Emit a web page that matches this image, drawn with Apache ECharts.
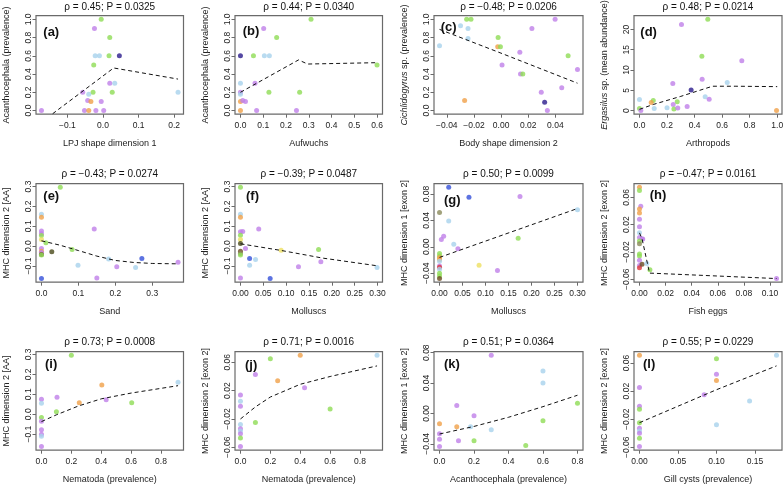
<!DOCTYPE html>
<html><head><meta charset="utf-8">
<script src="https://cdn.jsdelivr.net/npm/echarts@6/dist/echarts.min.js"></script>
<style>html,body{margin:0;padding:0;background:#fff}#c{width:784px;height:487px}</style>
</head><body><div id="c"></div>
<script>
// ---------- DATA (x, y, colour group) ----------
const aPts = [[-0.005,1.0,'g'],[-0.024,0.9,'p'],[0.019,0.8,'g'],[-0.022,0.6,'l'],[-0.010,0.6,'l'],[0.017,0.6,'g'],[0.046,0.6,'n'],[-0.026,0.5,'g'],[0.019,0.3,'p'],[0.033,0.3,'l'],[-0.057,0.2,'p'],[-0.028,0.2,'g'],[0.026,0.2,'g'],[-0.040,0.18,'l'],[0.211,0.2,'l'],[-0.043,0.11,'p'],[-0.034,0.1,'o'],[-0.005,0.1,'p'],[-0.173,0,'p'],[-0.052,0,'p'],[-0.040,0,'o'],[-0.020,0,'p'],[0.002,0,'p']];
const aFit = [[-0.173,-0.127],[0.030,0.467],[0.211,0.345]];
const bPts = [[0.31,1.0,'g'],[0.102,0.9,'p'],[0.159,0.8,'g'],[0,0.6,'n'],[0.057,0.6,'g'],[0.105,0.6,'l'],[0.127,0.6,'l'],[0.6,0.5,'g'],[0,0.3,'l'],[0.064,0.3,'p'],[0,0.2,'p'],[0,0.18,'l'],[0.125,0.2,'g'],[0.26,0.2,'g'],[0,0.1,'o'],[0.01,0.11,'p'],[0.022,0.1,'p'],[0,0,'o'],[0.071,0,'p'],[0.246,0,'p']];
const bFit = [[0,0.2],[0.255,0.555],[0.295,0.51],[0.6,0.525]];
const cPts = [[-0.0254,1.0,'g'],[-0.0222,1.0,'g'],[0.0398,1.0,'p'],[-0.0299,0.93,'l'],[-0.0244,0.9,'l'],[0.0227,0.9,'p'],[-0.0244,0.79,'l'],[-0.0022,0.8,'g'],[-0.0454,0.71,'l'],[-0.0025,0.70,'o'],[-0.0005,0.70,'g'],[0.0138,0.64,'p'],[0.0494,0.6,'g'],[0.0007,0.5,'p'],[0.0143,0.4,'p'],[0.016,0.4,'g'],[0.0563,0.45,'p'],[0.0296,0.2,'p'],[0.0447,0.25,'p'],[-0.0269,0.11,'o'],[0.0321,0.09,'n'],[0.0341,0,'p']];
const cFit = [[-0.0454,0.89],[0.0007,0.625],[0.0563,0.30]];
const dPts = [[0.496,22.5,'g'],[0.305,21.2,'p'],[0.453,13.4,'g'],[0.743,12.3,'p'],[0.242,6.7,'p'],[0.455,7.7,'p'],[0.637,6.9,'l'],[0.375,5.1,'n'],[0.477,3.4,'l'],[0.506,2.8,'p'],[0,2.7,'l'],[0.1,2.5,'g'],[0.085,2.0,'o'],[0.274,2.2,'g'],[0.245,1.5,'p'],[0.346,1.0,'p'],[0.2,0.7,'l'],[0,0.5,'g'],[0.107,0.5,'l'],[0.25,0.4,'g'],[0.278,0.6,'p'],[0.01,0,'p'],[0.995,0,'o']];
const dFit = [[0,0.3],[0.1,1.5],[0.3,3.5],[0.53,6.0],[0.7,6.0],[1.0,5.9]];
const ePts = [[0.051,0.296,'g'],[0,0.16,'l'],[0,0.145,'o'],[0.143,0.086,'p'],[0,0.076,'p'],[0,0.062,'p'],[0,0.054,'g'],[0,0.034,'y'],[0.012,0.017,'g'],[0,-0.012,'p'],[0,-0.025,'o'],[0,-0.032,'p'],[0,-0.042,'w'],[0,-0.045,'g'],[0.028,-0.028,'k'],[0.083,-0.017,'g'],[0.182,-0.065,'l'],[0.272,-0.062,'b'],[0.37,-0.081,'p'],[0.099,-0.096,'l'],[0.204,-0.104,'p'],[0.255,-0.108,'l'],[0.15,-0.16,'p'],[0,-0.163,'b']];
const eFit = [[0,0.027],[0.05,0.005],[0.1,-0.022],[0.15,-0.05],[0.2,-0.072],[0.25,-0.082],[0.3,-0.087],[0.37,-0.089]];
const fPts = [[0,0.296,'g'],[0,0.16,'l'],[0,0.145,'o'],[0.04,0.086,'p'],[0,0.072,'p'],[0.005,0.074,'p'],[0,0.055,'g'],[0,0.034,'y'],[0,0.013,'k'],[0.011,-0.012,'p'],[0,-0.025,'w'],[0,-0.037,'v'],[0,-0.045,'g'],[0.089,-0.02,'y'],[0.171,-0.017,'g'],[0.02,-0.062,'b'],[0.033,-0.067,'l'],[0.176,-0.079,'p'],[0.02,-0.096,'l'],[0.127,-0.104,'p'],[0.299,-0.108,'l'],[0,-0.16,'p'],[0.065,-0.163,'b']];
const fFit = [[0,0.012],[0.09,-0.022],[0.18,-0.06],[0.30,-0.099]];
const gPts = [[0.02,0.090,'b'],[0.064,0.075,'b'],[0.175,0.076,'p'],[0,0.052,'v'],[0.30,0.056,'l'],[0.02,0.039,'l'],[0.171,0.013,'g'],[0.009,0.016,'p'],[0.004,0.011,'p'],[0.031,0.004,'l'],[0.04,-0.003,'p'],[0,-0.010,'g'],[0,-0.014,'g'],[0,-0.016,'o'],[0,-0.019,'o'],[0,-0.022,'l'],[0.086,-0.028,'y'],[0,-0.029,'p'],[0,-0.031,'r'],[0,-0.034,'l'],[0.126,-0.036,'p'],[0,-0.040,'g'],[0,-0.044,'g'],[0,-0.048,'w']];
const gFit = [[0,-0.016],[0.3,0.058]];
const hPts = [[0,0.0747,'o'],[0,0.070,'g'],[0.001,0.047,'p'],[0,0.043,'o'],[0,0.037,'o'],[0,0.028,'p'],[0,0.017,'p'],[0,0.008,'l'],[0,0.001,'p'],[0.002,-0.001,'p'],[0.0025,-0.001,'p'],[0,-0.004,'g'],[0,-0.008,'v'],[0,-0.023,'g'],[0,-0.026,'g'],[0,-0.032,'p'],[0,-0.040,'p'],[0,-0.043,'r'],[0.002,-0.038,'w'],[0.0056,-0.037,'l'],[0.008,-0.046,'g'],[0.105,-0.059,'p']];
const hFit = [[0,0.008],[0.002,-0.001],[0.0077,-0.051],[0.105,-0.059]];
const iPts = [[0.2,0.295,'g'],[0.914,0.16,'l'],[0.404,0.147,'o'],[0.104,0.085,'p'],[0,0.075,'p'],[0.433,0.072,'p'],[0.253,0.057,'o'],[0.604,0.057,'g'],[0,0.055,'l'],[0.1,0.013,'g'],[0,-0.017,'g'],[0,-0.035,'p'],[0,-0.078,'p'],[0,-0.1,'p'],[0,-0.11,'l'],[0,-0.162,'p']];
const iFit = [[0,-0.037],[0.1,-0.003],[0.25,0.042],[0.4,0.077],[0.6,0.106],[0.914,0.143]];
const jPts = [[0.4,0.0699,'o'],[0.914,0.0699,'l'],[0.2,0.065,'g'],[0.1,0.043,'p'],[0.249,0.034,'o'],[0.429,0.024,'p'],[0,0.0137,'p'],[0,0.005,'l'],[0,-0.002,'p'],[0.6,-0.006,'g'],[0.1,-0.025,'g'],[0,-0.028,'l'],[0,-0.034,'p'],[0,-0.037,'l'],[0,-0.041,'p'],[0,-0.047,'g'],[0,-0.059,'p']];
const jFit = [[0,-0.020],[0.1,-0.003],[0.2,0.011],[0.4,0.029],[0.6,0.040],[0.914,0.055]];
const kPts = [[0.3,0.0765,'p'],[0.6,0.056,'l'],[0.6,0.040,'l'],[0.8,0.0136,'g'],[0.1,0.0105,'p'],[0.2,-0.003,'p'],[0.6,-0.0097,'g'],[0,-0.0136,'o'],[0.1,-0.0176,'o'],[0.18,-0.0176,'l'],[0.3,-0.0215,'l'],[0,-0.0268,'p'],[0,-0.034,'p'],[0.11,-0.036,'p'],[0.2,-0.036,'g'],[0,-0.0435,'p'],[0.5,-0.042,'g']];
const kFit = [[0,-0.027],[0.2,-0.017],[0.4,-0.005],[0.6,0.009],[0.8,0.024]];
const lPts = [[0,0.071,'o'],[0.178,0.071,'l'],[0.1,0.066,'g'],[0.1,0.044,'p'],[0.1,0.035,'o'],[0,0.025,'p'],[0.084,0.015,'p'],[0.143,0.006,'l'],[0,-0.0014,'p'],[0,-0.006,'g'],[0,-0.025,'g'],[0.1,-0.028,'l'],[0,-0.033,'p'],[0,-0.037,'l'],[0,-0.040,'p'],[0,-0.047,'g'],[0,-0.059,'p']];
const lFit = [[0,-0.025],[0.1,0.022],[0.178,0.056]];

// ---------- TICKS ----------
const xTicks = [[-0.1,0,0.1,0.2],[0,0.1,0.2,0.3,0.4,0.5,0.6],[-0.04,-0.02,0,0.02,0.04],[0,0.2,0.4,0.6,0.8,1.0],
  [0,0.1,0.2,0.3],[0,0.05,0.1,0.15,0.2,0.25,0.3],[0,0.05,0.1,0.15,0.2,0.25,0.3],[0,0.02,0.04,0.06,0.08,0.1],
  [0,0.2,0.4,0.6,0.8],[0,0.2,0.4,0.6,0.8],[0,0.2,0.4,0.6,0.8],[0,0.05,0.1,0.15]];
const xDec = [1,1,2,1, 1,2,2,2, 1,1,1,2];
const yTicks = [[0,0.2,0.4,0.6,0.8,1.0],[0,0.2,0.4,0.6,0.8,1.0],[0,0.2,0.4,0.6,0.8,1.0],[0,5,10,15,20],
  [-0.1,0,0.1,0.2,0.3],[-0.1,0,0.1,0.2,0.3],[-0.04,0,0.04,0.08],[-0.06,-0.02,0.02,0.06],
  [-0.1,0,0.1,0.2,0.3],[-0.06,-0.02,0.02,0.06],[-0.04,0,0.04,0.08],[-0.06,-0.02,0.02,0.06]];
const yDec = [1,1,1,0, 1,1,2,2, 1,2,2,2];

// ---------- TEXT ----------
const titles = ['ρ = 0.45; P = 0.0325','ρ = 0.44; P = 0.0340','ρ = −0.48; P = 0.0206','ρ = 0.48; P = 0.0214',
  'ρ = −0.43; P = 0.0274','ρ = −0.39; P = 0.0487','ρ = 0.50; P = 0.0099','ρ = −0.47; P = 0.0161',
  'ρ = 0.73; P = 0.0008','ρ = 0.71; P = 0.0016','ρ = 0.51; P = 0.0364','ρ = 0.55; P = 0.0229'];
const letters = ['(a)','(b)','(c)','(d)','(e)','(f)','(g)','(h)','(i)','(j)','(k)','(l)'];
const xNames = ['LPJ shape dimension 1','Aufwuchs','Body shape dimension 2','Arthropods','Sand','Molluscs','Molluscs','Fish eggs',
  'Nematoda (prevalence)','Nematoda (prevalence)','Acanthocephala (prevalence)','Gill cysts (prevalence)'];
const yNames = ['Acanthocephala (prevalence)','Acanthocephala (prevalence)','{i|Cichlidogyrus} sp. (prevalence)','{i|Ergasilus} sp. (mean abundance)',
  'MHC dimension 2 [AA]','MHC dimension 2 [AA]','MHC dimension 1 [exon 2]','MHC dimension 2 [exon 2]',
  'MHC dimension 2 [AA]','MHC dimension 2 [exon 2]','MHC dimension 1 [exon 2]','MHC dimension 2 [exon 2]'];

const allPts = [aPts,bPts,cPts,dPts,ePts,fPts,gPts,hPts,iPts,jPts,kPts,lPts];
const allFit = [aFit,bFit,cFit,dFit,eFit,fFit,gFit,hFit,iFit,jFit,kFit,lFit];

// ---------- STYLE / LAYOUT ----------
const COL = {p:'#BF80E8', g:'#8EDC55', l:'#A8D2EC', o:'#F0A048', n:'#2B1C8C', b:'#3550DA', y:'#EEE060', v:'#8A8A5A', w:'#6A4B22', r:'#E03A3A', k:'#4A4A1A'};
const FONT = '"Liberation Sans", Arial, sans-serif';
const LEFT = [36, 235, 434, 634], WID = [147.5, 147.5, 149, 148];
const TOP = [15.7, 183.7, 351.7], HEI = 98.5;
const TITLE_Y = [7.3, 174.2, 342];
const LET_OFF = [[7.3,17],[7.7,15.5],[6.7,12],[6.3,17],[7.3,12.4],[11,12.5],[10,16.3],[15.7,11.3],[9,12.4],[10,13.3],[10,13],[9,13]];

function ext(v){const mn=Math.min(...v), mx=Math.max(...v), d=(mx-mn)*0.04; return [mn-d, mx+d];}
function fmt(v,d){if(Math.abs(v)<1e-12) v=0; return v.toFixed(d).replace('-','\u2212');}

const grid=[], xAxis=[], yAxis=[], series=[], graphic=[];
for(let i=0;i<12;i++){
  const c=i%4, r=Math.floor(i/4);
  const pts=allPts[i];
  const xr=ext(pts.map(p=>p[0])), yr=ext(pts.map(p=>p[1]));
  grid.push({left:LEFT[c], top:TOP[r], width:WID[c], height:HEI, show:true, borderColor:'#6a6a6a', borderWidth:1.2,
    backgroundColor:'transparent', containLabel:false, outerBoundsMode:'none'});
  const xd=xDec[i], yd=yDec[i];
  xAxis.push({type:'value', gridIndex:i, min:xr[0], max:xr[1], splitLine:{show:false},
    axisLine:{show:false, onZero:false},
    axisTick:{show:true, length:3.5, lineStyle:{color:'#6a6a6a', width:1}, customValues:xTicks[i]},
    axisLabel:{customValues:xTicks[i], formatter:v=>fmt(v,xd), margin:7, fontSize:8.5, color:'#222', fontFamily:FONT, hideOverlap:false},
    name:xNames[i], nameLocation:'middle', nameGap:25, nameTextStyle:{fontSize:9, color:'#222', fontFamily:FONT}});
  yAxis.push({type:'value', gridIndex:i, min:yr[0], max:yr[1], splitLine:{show:false},
    axisLine:{show:false, onZero:false},
    axisTick:{show:true, length:3.5, lineStyle:{color:'#6a6a6a', width:1}, customValues:yTicks[i]},
    axisLabel:{customValues:yTicks[i], formatter:v=>fmt(v,yd), rotate:90, margin:3, fontSize:8.5, color:'#222', fontFamily:FONT, hideOverlap:false},
    name:yNames[i], nameLocation:'middle', nameRotate:90, nameGap:25,
    nameTextStyle:{fontSize:9, color:'#222', fontFamily:FONT, rich:{i:{fontStyle:'italic', fontSize:9, color:'#222', fontFamily:FONT}}}});
  series.push({type:'scatter', xAxisIndex:i, yAxisIndex:i, symbolSize:5, silent:true, z:3,
    data:pts.map(p=>({value:[p[0],p[1]], itemStyle:{color:COL[p[2]]}}))});
  series.push({type:'line', xAxisIndex:i, yAxisIndex:i, data:allFit[i], showSymbol:false, symbol:'none', clip:true, silent:true, z:4,
    lineStyle:{color:'#111', width:1, type:[4,3]}});
  graphic.push({type:'text', x:LEFT[c]+WID[c]/2, y:TITLE_Y[r], style:{text:titles[i], font:'10px '+FONT, fill:'#111', align:'center', verticalAlign:'middle'}});
  graphic.push({type:'text', x:LEFT[c]+LET_OFF[i][0], y:TOP[r]+LET_OFF[i][1], z:10, style:{text:letters[i], font:'bold 13px '+FONT, fill:'#111', align:'left', verticalAlign:'middle'}});
}

const chart = echarts.init(document.getElementById('c'), null, {renderer:'canvas'});
chart.setOption({animation:false, backgroundColor:'#fff', grid, xAxis, yAxis, series, graphic});
</script></body></html>
